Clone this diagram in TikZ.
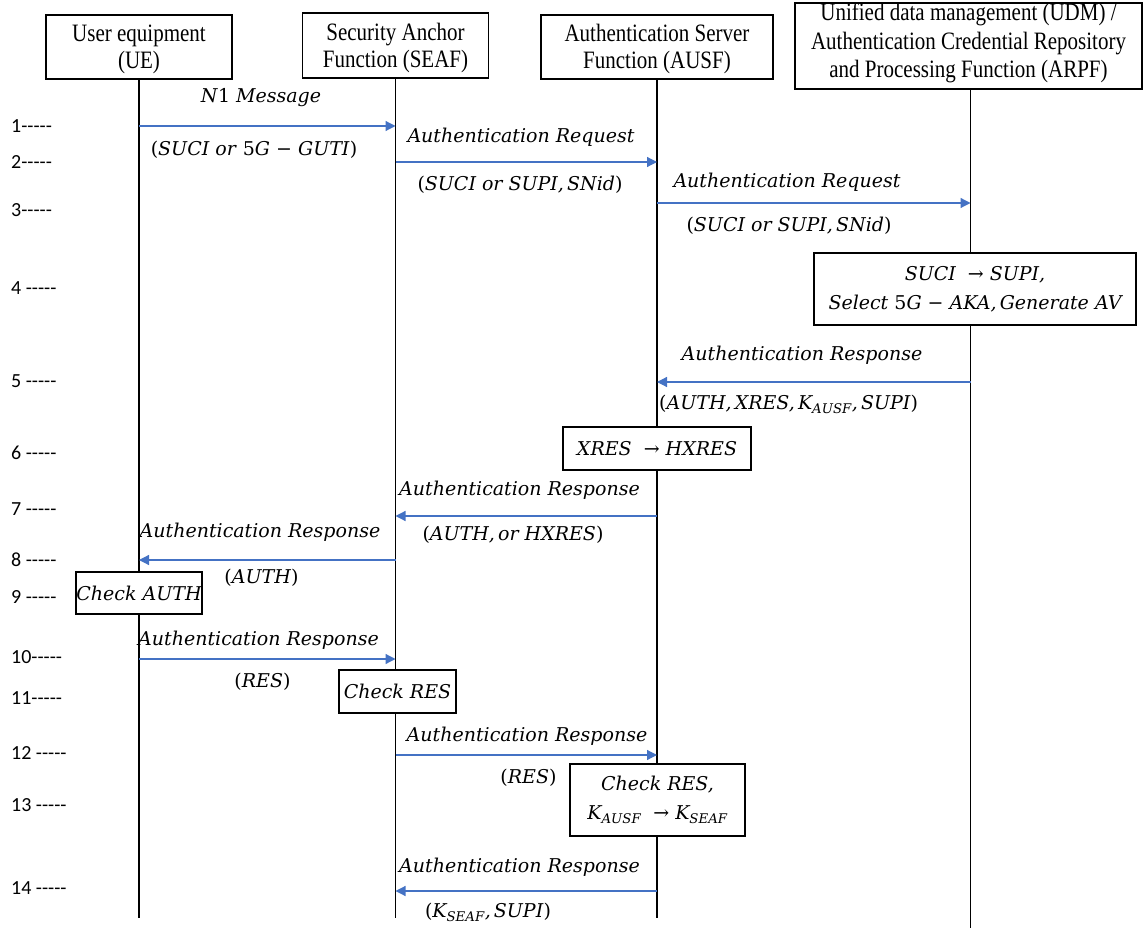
\documentclass[tikz,border=0pt]{standalone}
\usepackage[no-math]{fontspec}
\setmainfont{Liberation Serif}
\newfontfamily\hfont[FakeStretch=0.84]{Liberation Serif}
\newfontfamily\stepfont{Carlito}
\newfontfamily\mfont{DejaVu Serif}
\usetikzlibrary{arrows.meta}
\definecolor{msgblue}{RGB}{68,114,196}
\newcommand\dashrow{\mbox{-}\mbox{-}\mbox{-}\mbox{-}\mbox{-}}
\newcommand\op{\textup{(}}
\newcommand\cp{\textup{)}}
\newcommand\mrarrow{\textup{→}}
\newcommand\mminus{\textup{−}}
\newcommand\sub[1]{\textsubscript{#1}}
\newcommand\topstrut{\rule{0pt}{22pt}}
\newcommand\botstrut{\rule[-11pt]{0pt}{0pt}}
\tikzset{
  hdr/.style={draw, line width=1.9pt, fill=white, align=center, font=\hfont\fontsize{25}{27}\selectfont, inner sep=0pt},
  proc/.style={draw, line width=1.4pt, fill=white, align=center, font=\mfont\itshape\fontsize{19}{29}\selectfont, inner sep=0pt},
  life/.style={line width=1.7pt},
  msg/.style={draw=msgblue, line width=1.2pt, -{Triangle[length=10pt,width=10pt]}},
  lbl/.style={font=\mfont\itshape\fontsize{19}{24}\selectfont, inner sep=0pt},
  stepno/.style={font=\stepfont\fontsize{20}{24}\selectfont, anchor=west, inner sep=0pt},
}
\begin{document}
\begin{tikzpicture}[x=1pt,y=-1pt]
\useasboundingbox (0,0) rectangle (1144,928);
% headers
\node[hdr, minimum width=186pt, minimum height=64pt] (ue) at (139,47) {\topstrut User equipment\\(UE)};
\node[hdr, minimum width=186pt, minimum height=65pt] (seaf) at (395.5,45.5) {\topstrut Security Anchor\\Function (SEAF)};
\node[hdr, minimum width=232pt, minimum height=64pt] (ausf) at (657,47) {\topstrut Authentication Server\\Function (AUSF)};
\node[hdr, minimum width=347pt, minimum height=86pt, font=\hfont\fontsize{25}{28.5}\selectfont] (udm) at (968.5,46) {Unified data management (UDM) /\\Authentication Credential Repository\\and Processing Function (ARPF)\botstrut};
% lifelines
\coordinate (ueEnd) at (139,918);
\coordinate (seafEnd) at (395.5,918);
\coordinate (ausfEnd) at (657,918);
\coordinate (udmTop) at (970.5,89);
\coordinate (udmEnd) at (970.5,928);
\draw[life] (ue.south) -- (ueEnd);
\draw[life] (seaf.south) -- (seafEnd);
\draw[life] (ausf.south) -- (ausfEnd);
\draw[life] (udmTop) -- (udmEnd);
% step numbers
\node[stepno] (s1) at (11,126) {1\dashrow};
\node[stepno] (s2) at (11,162) {2\dashrow};
\node[stepno] (s3) at (11,210) {3\dashrow};
\node[stepno] (s4) at (11,288) {4 \dashrow};
\node[stepno] (s5) at (11,381) {5 \dashrow};
\node[stepno] (s6) at (11,453) {6 \dashrow};
\node[stepno] (s7) at (11,509) {7 \dashrow};
\node[stepno] (s8) at (11,560) {8 \dashrow};
\node[stepno] (s9) at (11,597) {9 \dashrow};
\node[stepno] (s10) at (11,657) {10\dashrow};
\node[stepno] (s11) at (11,698) {11\dashrow};
\node[stepno] (s12) at (11,753) {12 \dashrow};
\node[stepno] (s13) at (11,805) {13 \dashrow};
\node[stepno] (s14) at (11,888) {14 \dashrow};
% process boxes
\node[proc, minimum width=322pt, minimum height=72pt] (p4) at (975,289) {SUCI \ \mrarrow\ SUPI,\\Select \textup{5}G \mminus\ AKA,\,Generate AV};
\node[proc, minimum width=188pt, minimum height=43pt] (p6) at (657,448.5) {XRES \ \mrarrow\ HXRES};
\node[proc, minimum width=126pt, minimum height=42pt] (p9) at (139,593) {Check AUTH};
\node[proc, minimum width=117pt, minimum height=43pt] (p11) at (397.5,691.5) {Check RES};
\node[proc, minimum width=175pt, minimum height=72pt] (p13) at (657.5,800) {Check RES,\\K\sub{AUSF} \ \mrarrow\ K\sub{SEAF}};
% messages
\draw[msg] (ue |- 0,126) -- (seaf |- 0,126);
\draw[msg] (seaf |- 0,162) -- (ausf |- 0,162);
\draw[msg] (ausf |- 0,203) -- (udmTop |- 0,203);
\draw[msg] (udmTop |- 0,382) -- (ausf |- 0,382);
\draw[msg] (ausf |- 0,516) -- (seaf |- 0,516);
\draw[msg] (seaf |- 0,560) -- (ue |- 0,560);
\draw[msg] (ue |- 0,659) -- (seaf |- 0,659);
\draw[msg] (seaf |- 0,755) -- (ausf |- 0,755);
\draw[msg] (ausf |- 0,891) -- (seaf |- 0,891);
% message labels
\node[lbl] (m1a) at (261,98) {N\textup{1} Message};
\node[lbl] (m1b) at (254,150) {\op SUCI or \textup{5}G \mminus\ GUTI\cp};
\node[lbl] (m2a) at (521,137) {Authentication Request};
\node[lbl] (m2b) at (520,185) {\op SUCI or SUPI,\,SNid\cp};
\node[lbl] (m3a) at (787,182) {Authentication Request};
\node[lbl] (m3b) at (789,226) {\op SUCI or SUPI,\,SNid\cp};
\node[lbl] (m5a) at (802,355) {Authentication Response};
\node[lbl, anchor=west] (m5b) at (659,404) {\op AUTH,\,XRES,\,K\sub{AUSF},\,SUPI\cp};
\node[lbl] (m7a) at (519.5,490) {Authentication Response};
\node[lbl] (m7b) at (513,535) {\op AUTH,\,or HXRES\cp};
\node[lbl] (m8a) at (260,532) {Authentication Response};
\node[lbl] (m8b) at (261.5,578) {\op AUTH\cp};
\node[lbl] (m10a) at (258.5,640) {Authentication Response};
\node[lbl] (m10b) at (262.5,682) {\op RES\cp};
\node[lbl] (m12a) at (527,736) {Authentication Response};
\node[lbl] (m12b) at (528.5,778) {\op RES\cp};
\node[lbl] (m14a) at (519.5,867) {Authentication Response};
\node[lbl] (m14b) at (488,912) {\op K\sub{SEAF},\,SUPI\cp};
\end{tikzpicture}
\end{document}
